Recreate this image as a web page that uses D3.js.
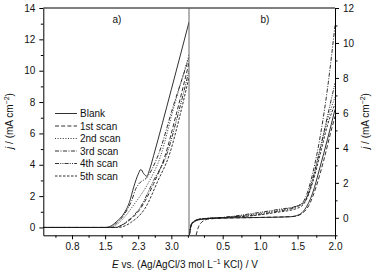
<!DOCTYPE html>
<html>
<head>
<meta charset="utf-8">
<script src="https://cdn.jsdelivr.net/npm/d3@7"></script>
<style>
  body { margin: 0; background: #fff; }
  text { font-family: "Liberation Sans", Arial, sans-serif; fill: #111; }
</style>
</head>
<body>
<div id="chart"></div>
<script>
// series names, in legend order
const seriesNames = ['Blank', '1st scan', '2nd scan', '3rd scan', '4th scan', '5th scan'];

// panel a) : [E, j]
const blankA = [[0.1, 0], [1.5, 0], [1.6, 0.05], [1.75, 0.35], [1.95, 1.0], [2.05, 1.6], [2.15, 2.6], [2.25, 3.4], [2.31, 3.7], [2.37, 3.45], [2.44, 3.27], [2.52, 3.8], [2.6, 4.6], [3.0, 8.8], [3.4, 13.1]];
const scan1A = [[0.1, 0], [1.7, 0], [1.8, 0.05], [2.0, 0.35], [2.3, 1.2], [2.6, 2.8], [2.85, 4.5], [3.1, 7.1], [3.4, 10.5]];
const scan2A = [[0.1, 0], [1.6, 0], [1.7, 0.08], [1.95, 0.7], [2.15, 1.45], [2.45, 2.7], [2.75, 4.5], [3.05, 7.6], [3.4, 11.0]];
const scan3A = [[0.1, 0], [1.6, 0], [1.7, 0.15], [1.95, 0.9], [2.1, 1.7], [2.2, 2.5], [2.27, 2.8], [2.45, 3.2], [2.7, 4.6], [3.05, 7.8], [3.4, 10.8]];
const scan4A = [[0.1, 0], [1.7, 0], [1.8, 0.05], [2.0, 0.4], [2.3, 1.3], [2.6, 3.0], [2.9, 4.7], [3.15, 7.2], [3.4, 10.0]];
const scan5A = [[0.1, 0], [1.8, 0], [1.9, 0.05], [2.1, 0.35], [2.4, 1.2], [2.7, 3.0], [2.95, 4.6], [3.2, 7.2], [3.4, 9.6]];

// panel b) : [E, j]
const blankB = [[0.055, -1.0], [0.07, -0.6], [0.1, -0.3], [0.2, -0.1], [0.4, -0.02], [1.0, 0.02], [1.4, 0.06], [1.52, 0.18], [1.6, 0.5], [1.7, 1.4], [1.8, 2.9], [1.9, 4.5], [2.0, 6.2]];
const scan1B = [[0.145, -1.0], [0.17, -0.6], [0.22, -0.25], [0.3, -0.08], [0.5, -0.02], [1.0, 0.02], [1.45, 0.08], [1.55, 0.22], [1.65, 0.7], [1.75, 1.8], [1.85, 3.3], [1.95, 5.0], [2.0, 5.8]];
const scan2B = [[0.055, -1.0], [0.07, -0.55], [0.1, -0.25], [0.2, -0.08], [0.5, 0.0], [0.9, 0.2], [1.2, 0.4], [1.5, 0.7], [1.6, 1.0], [1.7, 2.2], [1.8, 3.9], [1.9, 5.6], [2.0, 6.9]];
const scan3B = [[0.055, -1.0], [0.07, -0.55], [0.1, -0.25], [0.2, -0.07], [0.5, 0.02], [0.9, 0.15], [1.2, 0.35], [1.5, 0.65], [1.6, 1.1], [1.7, 2.5], [1.82, 5.1], [1.9, 7.4], [2.0, 11.0]];
const scan4B = [[0.055, -1.0], [0.07, -0.55], [0.1, -0.25], [0.2, -0.07], [0.5, 0.02], [0.9, 0.25], [1.2, 0.45], [1.55, 0.75], [1.63, 1.2], [1.72, 2.5], [1.82, 4.3], [1.92, 6.2], [2.0, 7.7]];
const scan5B = [[0.055, -1.0], [0.07, -0.55], [0.1, -0.25], [0.2, -0.07], [0.5, 0.01], [0.9, 0.12], [1.2, 0.3], [1.5, 0.55], [1.6, 0.9], [1.7, 2.0], [1.8, 3.6], [1.9, 5.3], [2.0, 6.5]];

// ticks
const xTicksA = [0.75, 1.5, 2.25, 3.0];
const xTickLabelsA = ['0.8', '1.5', '2.3', '3.0'];
const xTicksB = [0.5, 1.0, 1.5, 2.0];
const yTicksA = [0, 2, 4, 6, 8, 10, 12, 14];
const yTicksB = [0, 2, 4, 6, 8, 10, 12];

const dashStyles = [null, '4,2.2', '1,1.6', '4,1.5,1,1.5', '4,1.2,1,1.2,1,1.2', '2.5,1.5'];

const W = 377, H = 277;
const plotTop = 8, plotBottom = 235.3;
const leftA = 43.3, split = 189, rightB = 335;

const svg = d3.select('#chart').append('svg')
  .attr('width', W)
  .attr('height', H);

const xA = d3.scaleLinear().domain([0.1, 3.4]).range([leftA, split]);
const xB = d3.scaleLinear().domain([0.05, 2.0]).range([split, rightB]);
const yA = d3.scaleLinear().domain([-0.5, 14]).range([plotBottom, plotTop]);
const yB = d3.scaleLinear().domain([-1, 12]).range([plotBottom, plotTop]);

const seriesA = [blankA, scan1A, scan2A, scan3A, scan4A, scan5A];
const seriesB = [blankB, scan1B, scan2B, scan3B, scan4B, scan5B];

const defs = svg.append('defs');
defs.append('clipPath').attr('id', 'clipA').append('rect')
  .attr('x', leftA).attr('y', plotTop).attr('width', split - leftA).attr('height', plotBottom - plotTop);
defs.append('clipPath').attr('id', 'clipB').append('rect')
  .attr('x', split).attr('y', plotTop).attr('width', rightB - split).attr('height', plotBottom - plotTop);

function drawCurves(data, x, y, clipId) {
  const line = d3.line()
    .x(d => x(d[0]))
    .y(d => y(d[1]))
    .curve(d3.curveMonotoneX);
  svg.append('g').attr('clip-path', 'url(#' + clipId + ')')
    .selectAll('path')
    .data(data)
    .join('path')
    .attr('d', d => line(d))
    .attr('fill', 'none')
    .attr('stroke', '#1a1a1a')
    .attr('stroke-width', 0.9)
    .attr('stroke-dasharray', (d, i) => dashStyles[i]);
}

drawCurves(seriesA, xA, yA, 'clipA');
drawCurves(seriesB, xB, yB, 'clipB');

// axes
function styleAxis(g) {
  g.selectAll('path.domain').attr('stroke', '#000').attr('stroke-width', 1);
  g.selectAll('.tick line').attr('stroke', '#000').attr('stroke-width', 1);
  g.selectAll('text').attr('font-size', 10).attr('fill', '#111')
    .style('font-family', '"Liberation Sans", Arial, sans-serif');
}

const axXA = svg.append('g').attr('transform', `translate(0,${plotBottom})`)
  .call(d3.axisBottom(xA).tickValues(xTicksA)
    .tickFormat((d, i) => xTickLabelsA[i]).tickSize(4).tickSizeOuter(0).tickPadding(4));
styleAxis(axXA);
svg.append('g').attr('transform', `translate(0,${plotBottom})`)
  .call(d3.axisBottom(xA).tickValues(xTicksA.map(d => d - 0.375).filter(d => d > 0.1).concat([3.375]))
    .tickFormat('').tickSize(2.5).tickSizeOuter(0))
  .call(g => g.select('.domain').remove())
  .call(styleAxis);

const axXB = svg.append('g').attr('transform', `translate(0,${plotBottom})`)
  .call(d3.axisBottom(xB).tickValues(xTicksB)
    .tickFormat(d3.format('.1f')).tickSize(4).tickSizeOuter(0).tickPadding(4));
styleAxis(axXB);
svg.append('g').attr('transform', `translate(0,${plotBottom})`)
  .call(d3.axisBottom(xB).tickValues(xTicksB.map(d => d - 0.25))
    .tickFormat('').tickSize(2.5).tickSizeOuter(0))
  .call(g => g.select('.domain').remove())
  .call(styleAxis);

const axYA = svg.append('g').attr('transform', `translate(${leftA},0)`)
  .call(d3.axisLeft(yA).tickValues(yTicksA).tickSize(4).tickSizeOuter(0).tickPadding(4));
styleAxis(axYA);
svg.append('g').attr('transform', `translate(${leftA},0)`)
  .call(d3.axisLeft(yA).tickValues(yTicksA.map(d => d + 1).filter(d => d < 14)).tickFormat('').tickSize(2.5).tickSizeOuter(0))
  .call(g => g.select('.domain').remove())
  .call(styleAxis);

const axYB = svg.append('g').attr('transform', `translate(${rightB},0)`)
  .call(d3.axisRight(yB).tickValues(yTicksB).tickSize(4).tickSizeOuter(0).tickPadding(4));
styleAxis(axYB);
svg.append('g').attr('transform', `translate(${rightB},0)`)
  .call(d3.axisRight(yB).tickValues([-1].concat(yTicksB.map(d => d + 1).filter(d => d < 12))).tickFormat('').tickSize(2.5).tickSizeOuter(0))
  .call(g => g.select('.domain').remove())
  .call(styleAxis);

// top border and divider
svg.append('line').attr('x1', leftA).attr('x2', rightB).attr('y1', plotTop).attr('y2', plotTop)
  .attr('stroke', '#000').attr('stroke-width', 1);
svg.append('line').attr('x1', split).attr('x2', split).attr('y1', plotTop).attr('y2', plotBottom)
  .attr('stroke', '#555').attr('stroke-width', 0.9);

// panel labels
svg.append('text').attr('x', 117).attr('y', 23).attr('font-size', 10).attr('text-anchor', 'middle').text('a)');
svg.append('text').attr('x', 265).attr('y', 23).attr('font-size', 10).attr('text-anchor', 'middle').text('b)');

// legend
const legend = svg.append('g');
seriesNames.forEach((name, i) => {
  const yy = 113.5 + i * 12.5;
  legend.append('line').attr('x1', 55).attr('x2', 77).attr('y1', yy).attr('y2', yy)
    .attr('stroke', '#1a1a1a').attr('stroke-width', 0.9)
    .attr('stroke-dasharray', dashStyles[i]);
  legend.append('text').attr('x', 80).attr('y', yy + 3.6).attr('font-size', 10).text(name);
});

// axis titles
function yTitle(x) {
  const t = svg.append('text')
    .attr('transform', `translate(${x},121) rotate(-90)`)
    .attr('text-anchor', 'middle').attr('font-size', 10);
  t.append('tspan').attr('font-style', 'italic').text('j');
  t.append('tspan').text(' / (mA cm');
  t.append('tspan').attr('font-size', 7).attr('dy', -4).text('\u22122');
  t.append('tspan').attr('dy', 4).text(')');
}
yTitle(13);
yTitle(369);

const xt = svg.append('text').attr('x', 185).attr('y', 268)
  .attr('text-anchor', 'middle').attr('font-size', 10);
xt.append('tspan').attr('font-style', 'italic').text('E');
xt.append('tspan').text(' vs. (Ag/AgCl/3 mol L');
xt.append('tspan').attr('font-size', 7).attr('dy', -4).text('\u22121');
xt.append('tspan').attr('dy', 4).text(' KCl) / V');
</script>
</body>
</html>
